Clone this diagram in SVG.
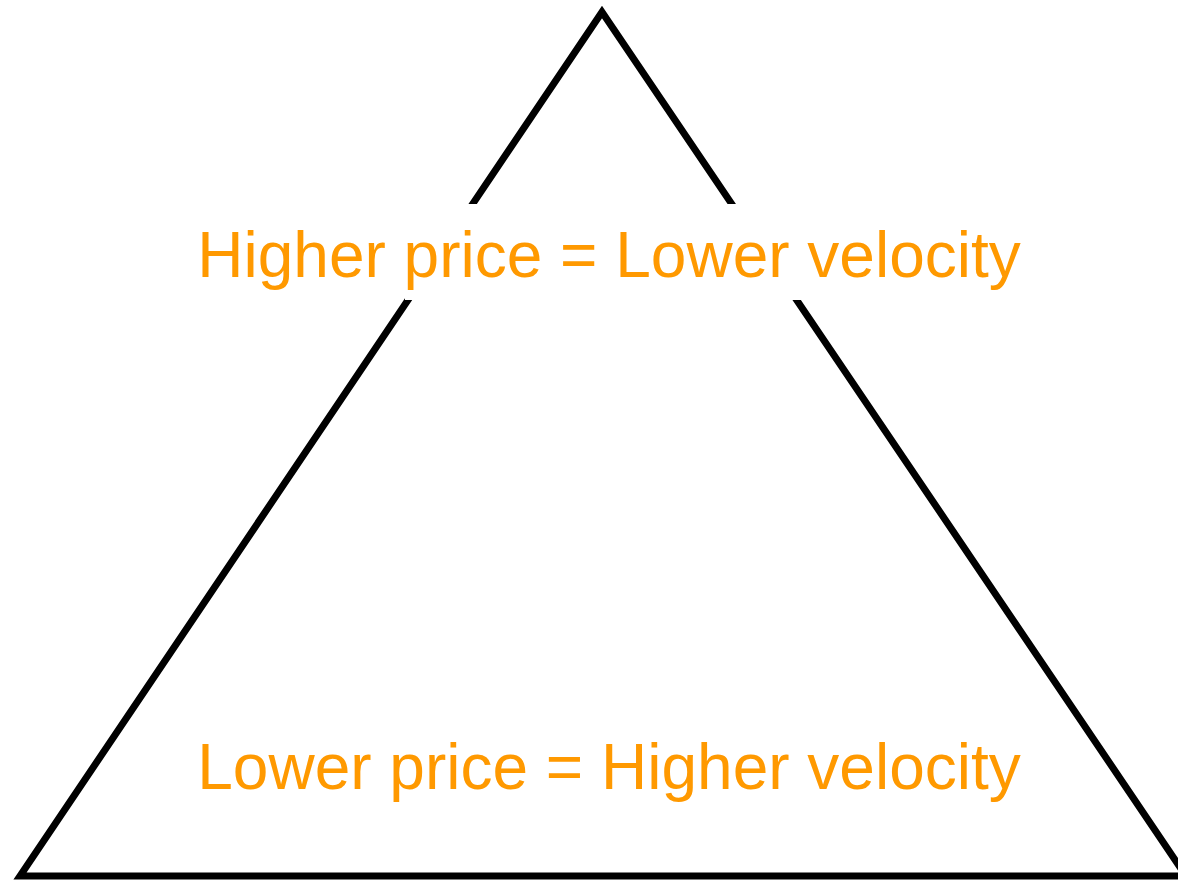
<svg xmlns="http://www.w3.org/2000/svg" width="1178" height="880" viewBox="0 0 1178 880">
<style>
.lbl{font-family:"Liberation Sans",Arial,sans-serif;font-size:64px;fill:#FF9900;text-anchor:middle}
</style>
<rect width="1178" height="880" fill="#fff"/>
<g id="triangle">
<polygon points="602,12 20,876 1186,876" fill="none" stroke="#000" stroke-width="7" stroke-linejoin="miter"/>
</g>
<g id="top-label">
<rect x="405" y="204" width="400" height="96" fill="#fff"/>
<text class="lbl" x="609" y="277">Higher price = Lower velocity</text>
</g>
<g id="bottom-label">
<text class="lbl" x="609" y="789">Lower price = Higher velocity</text>
</g>
</svg>
